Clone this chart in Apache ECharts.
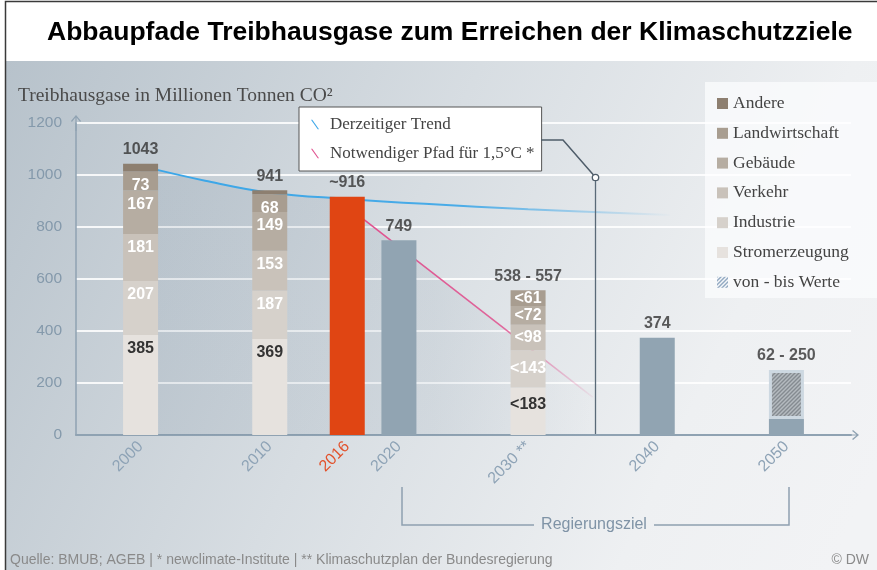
<!DOCTYPE html>
<html>
<head>
<meta charset="utf-8">
<script src="https://cdn.jsdelivr.net/npm/echarts@6/dist/echarts.min.js"></script>
<style>html,body{margin:0;padding:0;background:#fff}#c{width:877px;height:570px}</style>
</head>
<body>
<div id="c"></div>
<script>
// ---- data ----
const axisStartYear = 1995, axisEndYear = 2055;
const years = [2000, 2010, 2016, 2020, 2030, 2040, 2050];
const stromerzeugung = [385, 369, null, null, 183, null, null];
const industrie      = [207, 187, null, null, 143, null, null];
const verkehr        = [181, 153, null, null, 98, null, null];
const gebaeude       = [167, 149, null, null, 72, null, null];
const landwirtschaft = [73, 68, null, null, 61, null, null];
const andere         = [30, 15, null, null, null, null, null];
const aktuell2016    = [null, null, 916, null, null, null, null];
const zielwerte      = [null, null, null, 749, null, 374, 62];
const spanne         = [null, null, null, null, null, null, 188];
const totals         = [1043, 941, 916, 749, 557, 374, 250];
const totalLabels    = ['1043', '941', '~916', '749', '538 - 557', '374', '62 - 250'];
const upperBoundYears = [2030];
const trendDerzeitig = [[2000, 1035], [2005, 978], [2010, 932], [2016, 908], [2022, 889], [2030, 868], [2041, 846]];
const pfad15 = [[2017, 840], [2035, 146]];
const yTicks = [0, 200, 400, 600, 800, 1000, 1200];

const categories = [];
for (let y = axisStartYear; y <= axisEndYear; y++) categories.push(String(y));

const SANS = '"Liberation Sans", Arial, sans-serif';
const SERIF = '"Liberation Serif", "DejaVu Serif", serif';

function hatch(bg, fg) {
  const c = document.createElement('canvas');
  c.width = 4; c.height = 4;
  const g = c.getContext('2d');
  g.fillStyle = bg; g.fillRect(0, 0, 4, 4);
  g.strokeStyle = fg; g.lineWidth = 1.4;
  g.beginPath();
  g.moveTo(-1, 5); g.lineTo(5, -1);
  g.moveTo(-1, 1); g.lineTo(1, -1);
  g.moveTo(3, 5); g.lineTo(5, 3);
  g.stroke();
  return { image: c, repeat: 'repeat' };
}

function toData(arr, posFn) {
  const out = [];
  years.forEach((y, i) => {
    const v = arr[i];
    if (v === null) return;
    const item = { value: [String(y), v] };
    if (posFn) item.label = posFn(y);
    out.push(item);
  });
  return out;
}
const pts = list => list.map(p => [String(p[0]), p[1]]);
const segPos = y => upperBoundYears.includes(y) ? { position: 'inside' } : { position: 'insideTop', distance: 6 };
const bottomSegPos = y => upperBoundYears.includes(y) ? { position: 'insideTop', distance: 9 } : { position: 'insideTop', distance: 6 };

function segSeries(name, arr, color, labelColor, showLabel, posFn) {
  return {
    name, type: 'bar', stack: 'total', barWidth: 35, z: 3,
    itemStyle: { color },
    label: {
      show: showLabel, color: labelColor, fontFamily: SANS, fontWeight: 'bold', fontSize: 16,
      formatter: p => (upperBoundYears.includes(+p.value[0]) ? '<' : '') + p.value[1]
    },
    data: toData(arr, showLabel ? (posFn || segPos) : null)
  };
}

const chart = echarts.init(document.getElementById('c'), null, { renderer: 'canvas' });

const arrowPath = 'path://M5,0 L10,6 L9.1,6.9 L5.6,2.6 L5.6,16 L4.4,16 L4.4,2.6 L0.9,6.9 L0,6 Z';

const option = {
  animation: false,
  backgroundColor: '#fff',
  title: [
    { text: 'Abbaupfade Treibhausgase zum Erreichen der Klimaschutzziele', left: 42, top: 14,
      textStyle: { fontFamily: SANS, fontWeight: 'bold', fontSize: 26.5, color: '#000' } },
    { text: 'Treibhausgase in Millionen Tonnen CO²', left: 13, top: 81,
      textStyle: { fontFamily: SERIF, fontWeight: 'normal', fontSize: 19.5, color: '#4a4a4a' } },
    { text: 'Quelle: BMUB; AGEB | * newclimate-Institute | ** Klimaschutzplan der Bundesregierung', left: 5, top: 548,
      textStyle: { fontFamily: SANS, fontWeight: 'normal', fontSize: 14, color: '#8a8a8a' } },
    { text: '© DW', right: 3, top: 548,
      textStyle: { fontFamily: SANS, fontWeight: 'normal', fontSize: 14, color: '#8a8a8a' } }
  ],
  grid: { left: 76, right: 26, top: 123, bottom: 135, containLabel: false },
  legend: [
    {
      orient: 'vertical', left: 712, top: 89, itemWidth: 11, itemHeight: 11, itemGap: 10.8, icon: 'rect',
      textStyle: { fontFamily: SERIF, fontSize: 17.5, color: '#444', lineHeight: 19 },
      selectedMode: false,
      data: ['Andere', 'Landwirtschaft', 'Gebäude', 'Verkehr', 'Industrie', 'Stromerzeugung',
        { name: 'von - bis Werte', itemStyle: { color: hatch('#ffffff', '#86a0bb'), borderWidth: 0 } }]
    },
    {
      orient: 'vertical', left: 299, top: 107, itemWidth: 8, itemHeight: 12, itemGap: 12,
      padding: [9, 7, 9, 12], backgroundColor: '#fff', borderColor: '#555', borderWidth: 1,
      icon: 'path://M0,0 L1.6,0 L10,12 L8.4,12 Z',
      textStyle: { fontFamily: SERIF, fontSize: 17, color: '#444', lineHeight: 17, padding: [0, 0, 0, 6] },
      selectedMode: false,
      data: [
        { name: 'Derzeitiger Trend', itemStyle: { color: '#3aa6e8' } },
        { name: 'Notwendiger Pfad für 1,5°C *', itemStyle: { color: '#e0508e' } }
      ]
    }
  ],
  xAxis: {
    type: 'category', data: categories, boundaryGap: false,
    axisLine: { show: true, lineStyle: { color: '#8fa2b2', width: 2 }, symbol: ['none', arrowPath], symbolSize: [10, 16] },
    axisTick: { show: false },
    splitLine: { show: false },
    axisLabel: {
      interval: (idx, val) => years.includes(+val), rotate: 45, margin: 9, color: '#8ea3b6', fontFamily: SANS, fontSize: 16,
      formatter: v => v === '2016' ? '{r|2016}' : (v === '2030' ? '2030 **' : v),
      rich: { r: { color: '#e2512b', fontFamily: SANS, fontSize: 16 } }
    }
  },
  yAxis: {
    type: 'value', min: 0, max: 1200, interval: 200,
    axisLine: { show: true, lineStyle: { color: '#8fa2b2', width: 1.5 }, symbol: ['none', arrowPath], symbolSize: [10, 16] },
    axisTick: { show: false },
    splitLine: { show: true, lineStyle: { color: 'rgba(255,255,255,0.85)', width: 2 } },
    axisLabel: { margin: 14, color: '#8499ab', fontFamily: SANS, fontSize: 15.5,
      formatter: v => yTicks.includes(v) ? String(v) : '' }
  },
  series: [
    {
      name: 'shade', type: 'line', z: 1, silent: true, showSymbol: false, symbol: 'none',
      lineStyle: { width: 0 },
      areaStyle: { color: new echarts.graphic.LinearGradient(0, 0, 1, 0, [
        { offset: 0, color: 'rgba(110,132,152,0.22)' },
        { offset: 0.65, color: 'rgba(110,132,152,0.16)' },
        { offset: 1, color: 'rgba(110,132,152,0)' }]) },
      data: pts(trendDerzeitig.slice(0, 4).concat(pfad15))
    },
    {
      name: 'Derzeitiger Trend', type: 'line', smooth: 0.4, z: 1, showSymbol: false, symbol: 'none',
      itemStyle: { color: '#3aa6e8' },
      lineStyle: { width: 2, color: new echarts.graphic.LinearGradient(0, 0, 1, 0, [
        { offset: 0, color: 'rgba(58,166,232,1)' },
        { offset: 0.6, color: 'rgba(58,166,232,0.9)' },
        { offset: 1, color: 'rgba(58,166,232,0)' }]) },
      data: pts(trendDerzeitig)
    },
    {
      name: 'Notwendiger Pfad für 1,5°C *', type: 'line', z: 1, showSymbol: false, symbol: 'none',
      itemStyle: { color: '#e0508e' },
      lineStyle: { width: 1.6, color: new echarts.graphic.LinearGradient(0, 0, 1, 0, [
        { offset: 0, color: 'rgba(224,80,142,1)' },
        { offset: 0.6, color: 'rgba(224,80,142,0.85)' },
        { offset: 1, color: 'rgba(224,80,142,0.05)' }]) },
      data: pts(pfad15)
    },
    segSeries('Stromerzeugung', stromerzeugung, '#e6e2de', '#333', true, bottomSegPos),
    segSeries('Industrie', industrie, '#d6d1cb', '#fff', true),
    segSeries('Verkehr', verkehr, '#c9c2ba', '#fff', true),
    segSeries('Gebäude', gebaeude, '#b6ada2', '#fff', true),
    segSeries('Landwirtschaft', landwirtschaft, '#a89d90', '#fff', true),
    segSeries('Andere', andere, '#8d7f70', '#fff', false),
    { name: '2016', type: 'bar', stack: 'total', barWidth: 35, z: 3,
      itemStyle: { color: '#e04513' }, data: toData(aktuell2016) },
    { name: 'Ziel', type: 'bar', stack: 'total', barWidth: 35, z: 3,
      itemStyle: { color: '#91a4b2' }, data: toData(zielwerte) },
    { name: 'von - bis Werte', type: 'bar', stack: 'total', barWidth: 35, z: 3,
      itemStyle: { color: hatch('#b4babf', '#858b91'), borderColor: '#cdd8e1', borderWidth: 3 },
      data: toData(spanne) },
    {
      name: 'Gesamt', type: 'scatter', symbolSize: 0, z: 5, silent: true,
      label: { show: true, position: 'top', distance: 6, color: '#333', fontFamily: SANS, fontWeight: 'bold', fontSize: 16,
        formatter: p => totalLabels[p.dataIndex] },
      data: years.map((y, i) => [String(y), totals[i]])
    }
  ],
  graphic: [
    { type: 'rect', z: -10, silent: true, shape: { x: 5, y: 61, width: 872, height: 509 },
      style: { fill: new echarts.graphic.LinearGradient(0, 0, 1, 0.8, [
        { offset: 0, color: '#b7c2cb' },
        { offset: 0.45, color: '#d7dde2' },
        { offset: 0.8, color: '#eef0f2' },
        { offset: 1, color: '#f2f3f5' }]) } },
    { type: 'rect', z: -9, silent: true, shape: { x: 705, y: 82, width: 172, height: 216 },
      style: { fill: 'rgba(250,251,252,0.8)' } },
    { type: 'polyline', z: 10, silent: true, shape: { points: [[541, 140], [563, 140], [593.5, 175]] },
      style: { stroke: '#4f5d6a', lineWidth: 1.5, fill: null } },
    { type: 'circle', z: 10, silent: true, shape: { cx: 595.5, cy: 177.5, r: 3.2 },
      style: { stroke: '#4f5d6a', lineWidth: 1.3, fill: '#fff' } },
    { type: 'line', z: 10, silent: true, shape: { x1: 595.5, y1: 181, x2: 595.5, y2: 434 },
      style: { stroke: '#5a6a78', lineWidth: 1.3 } },
    { type: 'polyline', silent: true, shape: { points: [[402, 487], [402, 525], [534, 525]] },
      style: { stroke: '#8fa0b0', lineWidth: 1.5, fill: null } },
    { type: 'polyline', silent: true, shape: { points: [[654, 525], [789, 525], [789, 487]] },
      style: { stroke: '#8fa0b0', lineWidth: 1.5, fill: null } },
    { type: 'text', silent: true, x: 594, y: 525,
      style: { text: 'Regierungsziel', fill: '#7f93a6', font: '16px ' + SANS, align: 'center', verticalAlign: 'middle' } },
    { type: 'rect', z: 20, silent: true, shape: { x: 5.5, y: 1.5, width: 900, height: 600 },
      style: { stroke: '#3a3a3a', lineWidth: 1.5, fill: null } }
  ]
};
chart.setOption(option);
</script>
</body>
</html>
